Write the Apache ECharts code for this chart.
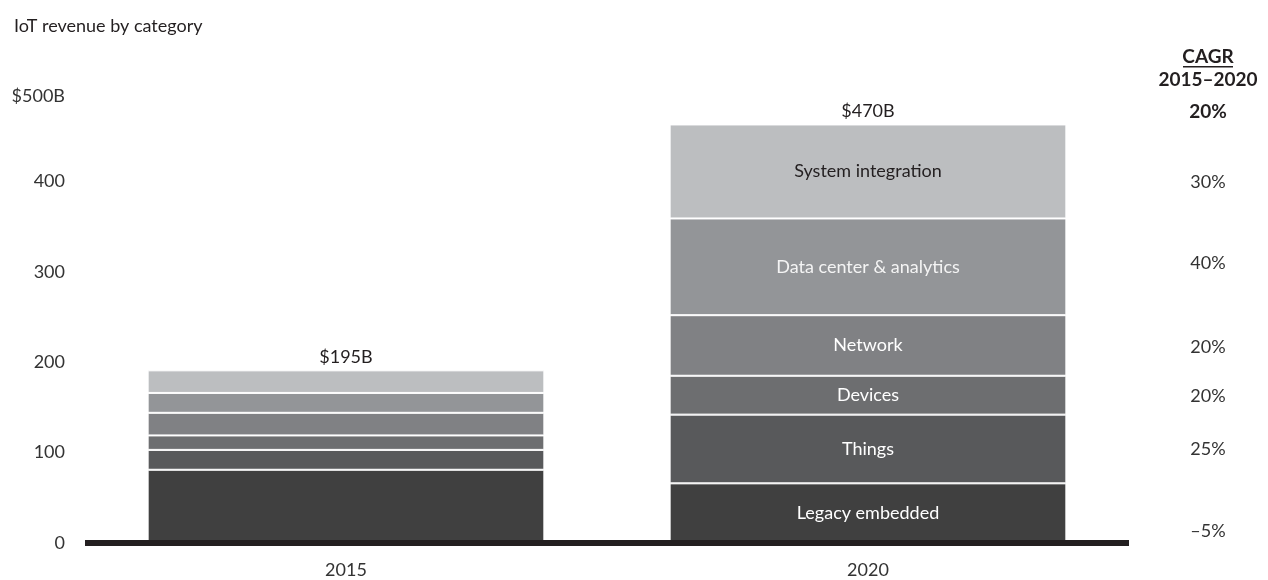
<!DOCTYPE html>
<html>
<head>
<meta charset="utf-8">
<script src="https://cdn.jsdelivr.net/npm/echarts@6/dist/echarts.min.js"></script>
<style>
  html, body { margin: 0; padding: 0; background: #fff; }
  #chart { width: 1268px; height: 580px; }
</style>
</head>
<body>
<div id="chart"></div>
<script>
// ---- data ----
const years = ['2015', '2020'];
const categories = ['Legacy embedded', 'Things', 'Devices', 'Network', 'Data center & analytics', 'System integration'];
const legacyEmbedded = [81, 66];
const things = [22, 76];
const devices = [16, 43];
const network = [25, 67];
const dataCenter = [22, 107];
const systemIntegration = [25, 104];
const totals = [195, 470];
const cagr = ['\u20135%', '25%', '20%', '20%', '40%', '30%'];
const cagrTotal = '20%';
const yTicks = [0, 100, 200, 300, 400, 500];

// ---- styles ----
const FONT = 'Lato, "Noto Sans", sans-serif';
const colors = ['#404040', '#58595b', '#6d6e70', '#808184', '#939598', '#bcbec0'];
const labelColors = ['#ffffff', '#ffffff', '#ffffff', '#ffffff', '#f4f4f4', '#231f20'];
const seriesValues = [legacyEmbedded, things, devices, network, dataCenter, systemIntegration];

const chart = echarts.init(document.getElementById('chart'));

const series = categories.map((name, i) => ({
  name: name,
  type: 'bar',
  stack: 'rev',
  barWidth: '76%',
  data: seriesValues[i],
  itemStyle: { color: colors[i], borderColor: '#ffffff', borderWidth: 1 },
  label: {
    show: true,
    position: 'inside',
    color: labelColors[i],
    fontFamily: FONT,
    fontSize: 18,
    formatter: p => (p.dataIndex === 1 ? name : '')
  },
  emphasis: { disabled: true }
}));

series.push({
  name: 'total',
  type: 'bar',
  stack: 'rev',
  barWidth: '76%',
  data: totals.map(() => 0),
  itemStyle: { color: 'transparent', borderWidth: 0 },
  label: {
    show: true,
    position: 'top',
    distance: 4,
    color: '#231f20',
    fontFamily: FONT,
    fontSize: 18,
    formatter: p => '$' + totals[p.dataIndex] + 'B'
  },
  emphasis: { disabled: true }
});

chart.setOption({
  animation: false,
  backgroundColor: '#ffffff',
  textStyle: { fontFamily: FONT },
  title: {
    text: 'IoT revenue by category',
    left: 9, top: 12,
    textStyle: { fontFamily: FONT, fontSize: 18, fontWeight: 'normal', color: '#231f20' }
  },
  grid: { left: 85, right: 139, top: 91, bottom: 37, containLabel: false },
  xAxis: {
    type: 'category',
    data: years,
    offset: 3,
    z: 5,
    axisLine: { lineStyle: { color: '#231f20', width: 6, cap: 'butt' } },
    axisTick: { show: false },
    axisLabel: { color: '#333333', fontFamily: FONT, fontSize: 18, margin: 15 }
  },
  yAxis: {
    type: 'value',
    min: 0, max: 500, interval: 100,
    axisLine: { show: false },
    axisTick: { show: false },
    splitLine: { show: false },
    axisLabel: {
      color: '#333333', fontFamily: FONT, fontSize: 18, margin: 20,
      formatter: v => (yTicks.indexOf(v) === yTicks.length - 1 ? '{top|$' + v + 'B}' : String(v)),
      rich: { top: { color: '#333333', fontFamily: FONT, fontSize: 18, padding: [11, 0, 0, 0] } }
    }
  },
  series: series
});

// CAGR column, anchored to the 2020 stack segments
const cagrOffsets = [18, 0, 1, 2, -4, 11];
const colX = 1208;
const BOLD = 'bold 19px ' + FONT;
const graphics = [
  { type: 'text', style: { text: 'CAGR', x: colX, y: 57, fill: '#231f20', font: BOLD, textAlign: 'center', textVerticalAlign: 'middle' } },
  { type: 'rect', shape: { x: colX - 25, y: 66, width: 50, height: 1.5 }, style: { fill: '#231f20' } },
  { type: 'text', style: { text: '2015\u20132020', x: colX, y: 80, fill: '#231f20', font: BOLD, textAlign: 'center', textVerticalAlign: 'middle' } }
];

let total2020 = 0;
seriesValues.forEach(v => { total2020 += v[1]; });
const totalY = chart.convertToPixel({ yAxisIndex: 0 }, total2020);
graphics.push({ type: 'text', style: { text: cagrTotal, x: colX, y: totalY - 13, fill: '#231f20', font: BOLD, textAlign: 'center', textVerticalAlign: 'middle' } });

let cum = 0;
seriesValues.forEach((vals, i) => {
  const mid = cum + vals[1] / 2;
  cum += vals[1];
  const y = chart.convertToPixel({ yAxisIndex: 0 }, mid) + cagrOffsets[i];
  graphics.push({ type: 'text', style: { text: cagr[i], x: colX, y: y, fill: '#333333', font: '18px ' + FONT, textAlign: 'center', textVerticalAlign: 'middle' } });
});

chart.setOption({ graphic: graphics });
</script>
</body>
</html>
